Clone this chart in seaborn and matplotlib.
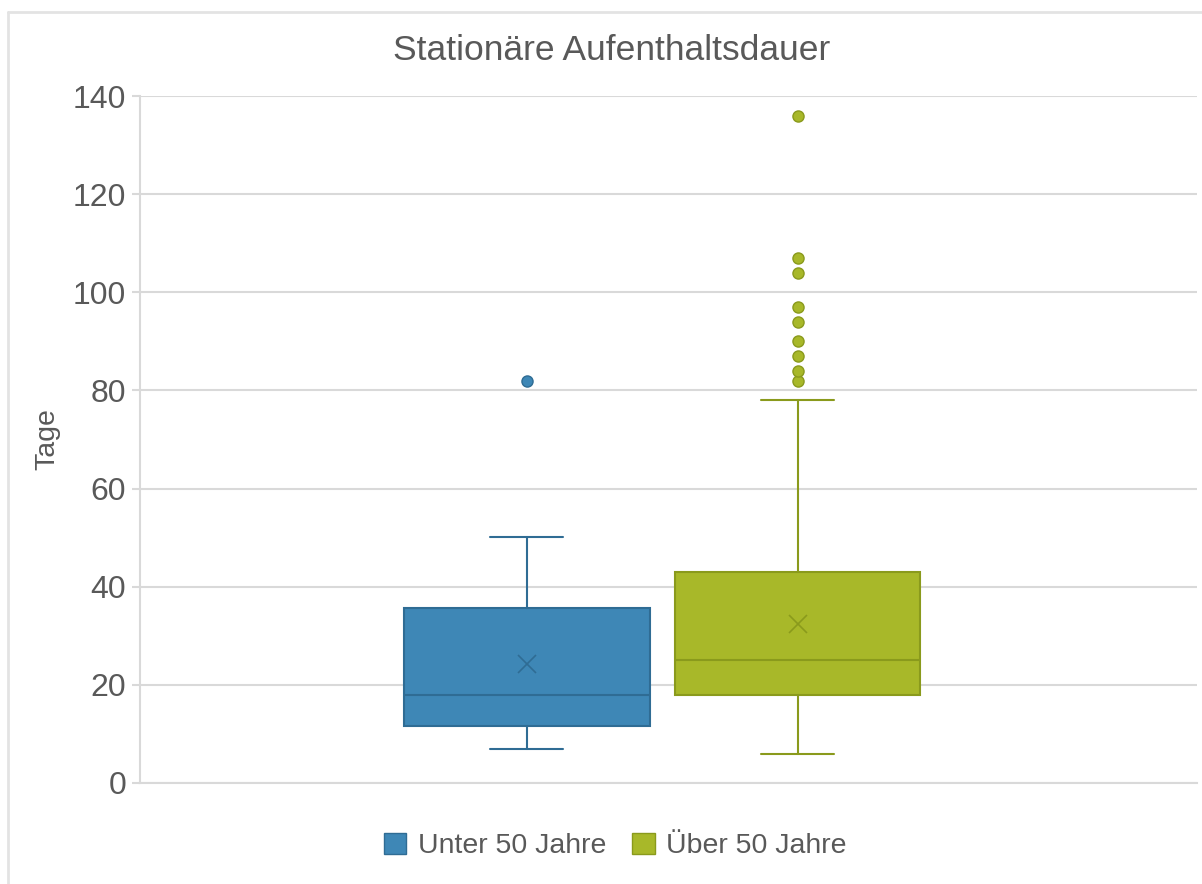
import numpy as np
import seaborn as sns
import matplotlib.pyplot as plt
from matplotlib.patches import Patch
from matplotlib.lines import Line2D

# Kennzahlen der beiden Gruppen
gruppen = ['Unter 50 Jahre', 'Über 50 Jahre']
minimum = [7, 6]
q1 = [11.7, 18]
median = [18, 25]
q3 = [35.6, 43]
maximum = [50.2, 78]
mittelwert = [24.2, 32.4]
ausreisser_unter = [82]
ausreisser_ueber = [82, 84, 87, 90, 94, 97, 104, 107, 136]

farben = ['#3E87B6', '#A8B829']
kanten = ['#2F6C94', '#8A9A1C']
textfarbe = '#595959'

sns.set_theme(style='whitegrid')
plt.rcParams['font.family'] = ['Liberation Sans', 'DejaVu Sans']

fig = plt.figure(figsize=(12.02, 8.84), dpi=100)
ax = fig.add_axes([0.1165, 0.1143, 0.8795, 0.7771])

ausreisser = [ausreisser_unter, ausreisser_ueber]
positionen = [0.366, 0.622]
for i in range(2):
    stats = [{
        'whislo': minimum[i], 'q1': q1[i], 'med': median[i], 'q3': q3[i],
        'whishi': maximum[i], 'mean': mittelwert[i], 'fliers': ausreisser[i],
        'label': gruppen[i],
    }]
    ax.bxp(stats, positions=[positionen[i]], widths=0.232, patch_artist=True,
           showmeans=True, manage_ticks=False, capwidths=0.069,
           boxprops=dict(facecolor=farben[i], edgecolor=kanten[i], linewidth=1.5),
           medianprops=dict(color=kanten[i], linewidth=1.5),
           whiskerprops=dict(color=kanten[i], linewidth=1.5),
           capprops=dict(color=kanten[i], linewidth=1.5),
           meanprops=dict(marker='x', markersize=13, markeredgecolor=kanten[i],
                          markeredgewidth=1.2),
           flierprops=dict(marker='o', markersize=8, markerfacecolor=farben[i],
                           markeredgecolor=kanten[i], markeredgewidth=1))

ax.set_xlim(0, 1)
ax.set_ylim(0, 140)
ax.set_yticks(np.arange(0, 141, 20))
ax.set_xticks([])
ax.grid(axis='y', color='#D9D9D9', linewidth=1.5)
ax.grid(axis='x', visible=False)
ax.set_axisbelow(True)
for s in ['top', 'right']:
    ax.spines[s].set_visible(False)
for s in ['left', 'bottom']:
    ax.spines[s].set_color('#D9D9D9')
    ax.spines[s].set_linewidth(1.5)
ax.tick_params(axis='y', length=6, width=1.5, color='#D9D9D9', labelsize=23,
               labelcolor=textfarbe, left=True, pad=4)
ax.set_ylabel('Tage', fontsize=20.5, color=textfarbe, labelpad=9)
fig.text(612 / 1202, 1 - 50 / 884, 'Stationäre Aufenthaltsdauer', fontsize=25.5,
         color=textfarbe, ha='center', va='center')

handles = [Patch(facecolor=farben[i], edgecolor=kanten[i], label=gruppen[i]) for i in range(2)]
leg = fig.legend(handles=handles, loc='center', bbox_to_anchor=(615 / 1202, 0.043), ncol=2,
                 frameon=False, fontsize=20.5, handlelength=0.8, handleheight=0.8,
                 handletextpad=0.4, columnspacing=0.9)
for t in leg.get_texts():
    t.set_color(textfarbe)

# Rahmen um das Diagramm
fig.add_artist(Line2D([8 / 1202, 1], [1 - 12 / 884, 1 - 12 / 884], color='#E3E3E3', linewidth=2))
fig.add_artist(Line2D([8 / 1202, 8 / 1202], [0, 1 - 12 / 884], color='#E3E3E3', linewidth=2))

fig.savefig('out.png', dpi=100)
